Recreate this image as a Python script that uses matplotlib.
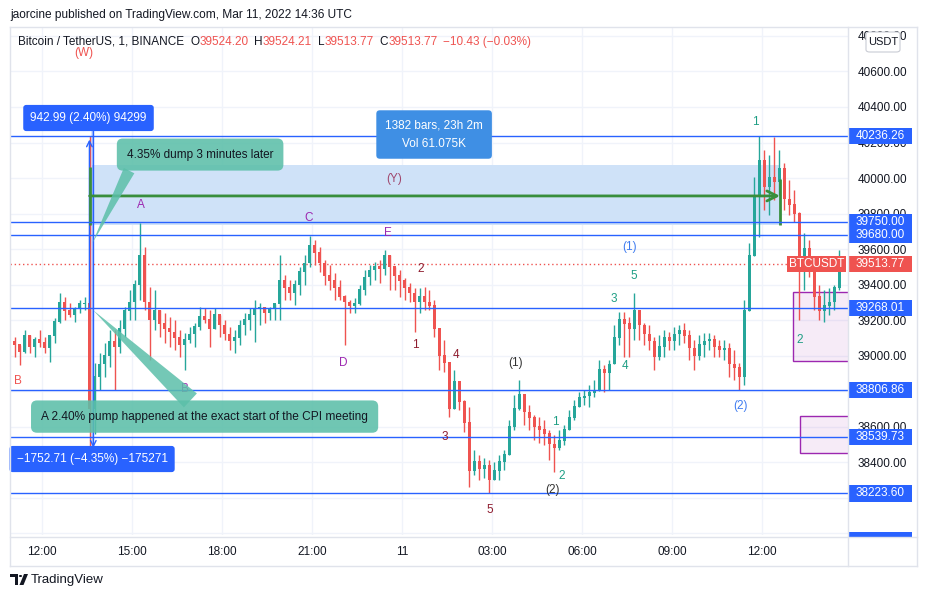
import numpy as np
import pandas as pd
import matplotlib
matplotlib.use("Agg")
import matplotlib.pyplot as plt
from matplotlib.patches import Rectangle, Polygon, Circle, FancyBboxPatch
from matplotlib.transforms import blended_transform_factory

plt.rcParams["font.family"] = ["Liberation Sans", "DejaVu Sans"]

bar_start = "2022-03-10 11:00"
bar_minutes = 10
first_open = 39080
highs = [39104, 39048, 39144, 39115, 39104, 39144, 39104, 39087, 39211, 39352,
         39330, 39296, 39273, 39313, 39330, 40236, 38960, 39014, 39070, 39144,
         39144, 39200, 39273, 39369, 39425, 39746, 39611, 39386, 39369, 39256,
         39240, 39217, 39200, 39144, 39127, 39160, 39183, 39273, 39268, 39256,
         39268, 39200, 39200, 39160, 39144, 39200, 39240, 39268, 39313, 39296,
         39273, 39273, 39284, 39566, 39453, 39425, 39425, 39499, 39566, 39673,
         39651, 39611, 39538, 39510, 39465, 39425, 39341, 39313, 39324, 39397,
         39482, 39510, 39527, 39538, 39594, 39566, 39499, 39482, 39436, 39408,
         39380, 39380, 39386, 39369, 39313, 39144, 39087, 38918, 38918, 38834,
         38749, 38710, 38468, 38440, 38423, 38411, 38400, 38440, 38468, 38637,
         38777, 38862, 38777, 38721, 38665, 38653, 38637, 38580, 38552, 38580,
         38608, 38693, 38749, 38794, 38806, 38834, 38862, 38975, 38946, 38975,
         39172, 39245, 39245, 39217, 39352, 39200, 39183, 39172, 39104, 39115,
         39144, 39132, 39160, 39172, 39183, 39144, 39087, 39115, 39127, 39127,
         39115, 39087, 39087, 39070, 39031, 38958, 39313, 39634, 40006, 40236,
         40158, 40130, 40231, 40158, 40085, 39989, 39932, 39810, 39690, 39651,
         39527, 39397, 39369, 39380, 39397, 39594]
lows = [38992, 38946, 39014, 39014, 38992, 39048, 39014, 38963, 39070, 39183,
        39200, 39217, 39189, 39240, 39256, 38481, 38560, 38806, 38879, 38935,
        38806, 39014, 39104, 39200, 39200, 39313, 39256, 38975, 39144, 39104,
        39070, 39048, 39031, 38992, 38918, 39070, 39048, 39144, 39183, 39048,
        39160, 39104, 39087, 39031, 39014, 39059, 39115, 39144, 39076, 39172,
        39183, 39200, 39200, 39200, 39313, 39313, 39284, 39341, 39397, 39499,
        39510, 39470, 39397, 39369, 39313, 39313, 39059, 39240, 39240, 39284,
        39341, 39397, 39425, 39408, 39453, 39369, 39369, 39330, 39313, 39301,
        39132, 39240, 39256, 39256, 39104, 38918, 38907, 38653, 38777, 38693,
        38569, 38259, 38327, 38299, 38310, 38224, 38299, 38299, 38355, 38485,
        38580, 38693, 38608, 38580, 38524, 38507, 38496, 38411, 38344, 38468,
        38496, 38580, 38637, 38710, 38721, 38710, 38766, 38834, 38794, 38806,
        38975, 39059, 38992, 38992, 39087, 39087, 39059, 39031, 38918, 38975,
        38992, 39031, 39031, 39059, 39070, 38975, 38918, 38975, 38992, 39031,
        38992, 38992, 38975, 38879, 38862, 38806, 38834, 39256, 39594, 39668,
        39820, 39792, 39876, 39904, 39820, 39792, 39752, 39200, 39369, 39442,
        39256, 39200, 39189, 39228, 39256, 39369]
closes = [39059, 39020, 39110, 39050, 39090, 39070, 39040, 39110, 39190, 39300,
          39250, 39230, 39260, 39290, 39291, 38700, 38880, 38950, 39000, 39080,
          39050, 39150, 39250, 39300, 39400, 39560, 39300, 39200, 39250, 39180,
          39150, 39130, 39100, 39060, 39090, 39120, 39160, 39220, 39200, 39150,
          39230, 39170, 39120, 39080, 39100, 39170, 39200, 39230, 39260, 39270,
          39240, 39260, 39290, 39420, 39380, 39350, 39400, 39470, 39520, 39620,
          39580, 39520, 39450, 39420, 39380, 39330, 39300, 39280, 39290, 39370,
          39440, 39480, 39500, 39490, 39560, 39500, 39450, 39420, 39380, 39350,
          39300, 39330, 39300, 39280, 39150, 39000, 38960, 38700, 38850, 38740,
          38620, 38350, 38400, 38360, 38380, 38300, 38350, 38400, 38440, 38600,
          38700, 38780, 38680, 38650, 38600, 38580, 38560, 38500, 38480, 38520,
          38580, 38650, 38710, 38760, 38770, 38790, 38800, 38920, 38900, 38950,
          39100, 39200, 39180, 39150, 39250, 39170, 39120, 39080, 38990, 39050,
          39100, 39080, 39120, 39140, 39110, 39040, 39000, 39060, 39080, 39090,
          39050, 39030, 39040, 38950, 38930, 38880, 39250, 39560, 39900, 40100,
          39950, 40000, 39980, 40050, 39880, 39850, 39800, 39500, 39600, 39520,
          39330, 39250, 39280, 39300, 39380, 39513.77]

h_levels = [40236.26, 39750.00, 39680.00, 39268.01, 38806.86, 38539.73, 38223.60]
last_price = 39513.77
price_ticks = list(range(38000, 40801, 200))
time_ticks = [12, 15, 18, 21, 24, 27, 30, 33, 36]   # hours since Mar 10 00:00
time_labels = ["12:00", "15:00", "18:00", "21:00", "11", "03:00", "06:00", "09:00", "12:00"]

# CPI candle: pump from 39291 to 40236.26, dump to 38481
pump_low, pump_high, dump_low = 39291, 40236.26, 38481
cpi_time = 13.68
# (Y) zone and the date range drawn on it
zone_t0, zone_t1 = 13.667, 36.6
zone_lo, zone_hi = 39735, 40073
range_price = 39899

# wave labels: text, hours, price, colour key
waves = [("(W)", 13.4, 40704, "red"), ("B", 11.2, 38856, "red"),
         ("A", 15.3, 39848, "purple"), ("B", 16.77, 38811, "purple"),
         ("C", 20.9, 39775, "purple"), ("D", 22.03, 38958, "purple"),
         ("E", 23.53, 39690, "purple"), ("(Y)", 23.73, 39994, "mauve"),
         ("2", 24.63, 39487, "maroon"), ("1", 24.43, 39059, "maroon"),
         ("4", 25.8, 39003, "maroon"), ("3", 25.43, 38541, "maroon"),
         ("5", 26.93, 38130, "maroon"),
         ("(1)", 27.8, 38958, "black"), ("(2)", 29.03, 38242, "black"),
         ("1", 29.1, 38625, "teal"), ("2", 29.33, 38321, "teal"),
         ("3", 31.07, 39318, "teal"), ("4", 31.43, 38941, "teal"),
         ("5", 31.73, 39448, "teal"),
         ("(1)", 31.57, 39611, "blue"), ("(2)", 35.3, 38715, "blue"),
         ("1", 35.77, 40316, "teal"), ("2", 37.27, 39087, "teal")]
wave_colors = {"red": "#ef5350", "purple": "#9c27b0", "mauve": "#a0486e",
               "maroon": "#8e1c2e", "black": "#333333", "teal": "#1e9e84",
               "blue": "#3f7cf0"}

UP, DOWN, BLUE, TXT, GRID, BORDER = "#26a69a", "#ef5350", "#2962ff", "#131722", "#f0f3fa", "#e0e3eb"
TEAL_BOX = "#5cbfa9"

W, H = 927, 598
fig = plt.figure(figsize=(W / 100, H / 100), dpi=100)
fig.patch.set_facecolor("white")


def fx(x):
    return x / W


def fy(y):
    return 1 - y / H


ax = fig.add_axes([fx(10), fy(535), (848 - 10) / W, (535 - 28) / H])
ax.set_xlim(10.933, 38.867)
ax.set_ylim(37989, 40845)
for s in ax.spines.values():
    s.set_visible(False)

ax.set_yticks(price_ticks)
ax.set_yticklabels([""] + [f"{p:.2f}" for p in price_ticks[1:]])
ax.set_xticks(time_ticks)
ax.set_xticklabels(time_labels)
ax.yaxis.tick_right()
ax.tick_params(length=0, labelsize=8.5, labelcolor=TXT)
ax.tick_params(axis="y", pad=7)
ax.tick_params(axis="x", pad=8)
ax.grid(color=GRID, lw=1)
ax.set_axisbelow(True)

# candles
times = pd.date_range(bar_start, periods=len(closes), freq=f"{bar_minutes}min")
t = (times - pd.Timestamp("2022-03-10")).total_seconds().values / 3600 + bar_minutes / 120
c = np.array(closes, dtype=float)
o = np.concatenate([[first_open], c[:-1]])
hi = np.maximum(np.array(highs, dtype=float), np.maximum(o, c))
lo = np.minimum(np.array(lows, dtype=float), np.minimum(o, c))
cols = np.where(c >= o, UP, DOWN)
ax.vlines(t, lo, hi, colors=cols, lw=1, zorder=3)
ax.bar(t, np.abs(c - o) + 4, bottom=np.minimum(o, c), width=bar_minutes / 60 * 0.7,
       color=cols, zorder=3)

# (Y) zone and date range
ax.add_patch(Rectangle((zone_t0, zone_lo), zone_t1 - zone_t0, zone_hi - zone_lo,
                       fc="#cfe2f8", ec="none", zorder=1))
green = "#388e3c"
ax.annotate("", xy=(zone_t1, range_price), xytext=(zone_t0 - 0.08, range_price),
            arrowprops=dict(arrowstyle="->", color=green, lw=2, mutation_scale=18,
                            shrinkA=0, shrinkB=0), zorder=4)
ax.vlines([zone_t0 - 0.08, zone_t1], zone_lo, [zone_hi - 10, zone_hi - 80],
          colors=green, lw=2, zorder=4)
ax.text(25.07, 40245, "1382 bars, 23h 2m\nVol 61.075K", color="white", fontsize=8.5,
        ha="center", va="center", linespacing=1.75, zorder=8,
        bbox=dict(boxstyle="round,pad=0.75,rounding_size=0.3", fc="#3f8fe4", ec="none"))

# price range measurement on the CPI candle
ax.add_patch(Rectangle((cpi_time - 0.06, dump_low), 0.16, pump_high + 60 - dump_low,
                       fc=BLUE, alpha=0.18, ec="none", zorder=2))
ax.annotate("", xy=(cpi_time - 0.1, pump_high - 20), xytext=(cpi_time - 0.1, 39268),
            arrowprops=dict(arrowstyle="->", color=BLUE, lw=1, shrinkA=0, shrinkB=0))
ax.annotate("", xy=(cpi_time + 0.03, dump_low), xytext=(cpi_time + 0.03, 40300),
            arrowprops=dict(arrowstyle="->", color=BLUE, lw=1, shrinkA=0, shrinkB=0))
ax.text(13.55, 40338, "942.99 (2.40%) 94299", color="white", fontsize=8.5,
        ha="center", va="center", zorder=8,
        bbox=dict(boxstyle="round,pad=0.6,rounding_size=0.25", fc=BLUE, ec="none"))
ax.text(13.67, 38417, "\u22121752.71 (\u22124.35%) \u2212175271", color="white", fontsize=8.5,
        ha="center", va="center", zorder=8,
        bbox=dict(boxstyle="round,pad=0.6,rounding_size=0.25", fc=BLUE, ec="none"))

# horizontal levels and last price
for lv in h_levels:
    ax.axhline(lv, color=BLUE, lw=1, zorder=4)
ax.axhline(last_price, color=DOWN, lw=1, ls=(0, (1, 2)), zorder=2)

# purple zones
for lo_p, hi_p, t0 in [(38969, 39358, 37.03), (38451, 38659, 37.27)]:
    ax.add_patch(Rectangle((t0, lo_p), 40 - t0, hi_p - lo_p, fc="#9c27b0", alpha=0.09,
                           ec="none", zorder=2))
    ax.add_patch(Rectangle((t0, lo_p), 40 - t0, hi_p - lo_p, fc="none", ec="#9c27b0",
                           lw=1, zorder=2))

# wave labels
for txt, wt, wp, ck in waves:
    ax.text(wt, wp, txt, color=wave_colors[ck], fontsize=8.5, ha="center", va="center", zorder=6)

# callouts (semi-transparent, as in TradingView)
ax.annotate("4.35% dump 3 minutes later", xy=(13.68, 39634), xytext=(17.27, 40132),
            fontsize=8.5, color=TXT, ha="center", va="center", zorder=9,
            bbox=dict(boxstyle="round,pad=0.85,rounding_size=0.5", fc=TEAL_BOX, ec="none", alpha=0.88),
            arrowprops=dict(arrowstyle="wedge,tail_width=1.0", fc=TEAL_BOX, ec="none", alpha=0.85,
                            relpos=(0.05, 0), shrinkA=0, shrinkB=0))
ax.annotate("A 2.40% pump happened at the exact start of the CPI meeting",
            xy=(13.7, 39256), xytext=(17.42, 38656),
            fontsize=8.6, color=TXT, ha="center", va="center", zorder=9,
            bbox=dict(boxstyle="round,pad=0.85,rounding_size=0.5", fc=TEAL_BOX, ec="none", alpha=0.88),
            arrowprops=dict(arrowstyle="wedge,tail_width=1.6", fc=TEAL_BOX, ec="none", alpha=0.85,
                            relpos=(0.49, 1), shrinkA=0, shrinkB=0))

# BTCUSDT tag on the last price
ax.add_patch(Rectangle((36.83, last_price - 46), 38.8 - 36.83, 92, fc=DOWN, ec="none", zorder=7))
ax.text(37.82, last_price, "BTCUSDT", color="white", fontsize=8.5, ha="center", va="center", zorder=8)

# price scale tags
tr = blended_transform_factory(ax.transAxes, ax.transData)
bw = 64 / 838
for lv, col in [(v, BLUE) for v in h_levels] + [(last_price, DOWN)]:
    ax.add_patch(Rectangle((1.0, lv - 46), bw, 92, transform=tr, fc=col, ec="none",
                           clip_on=False, zorder=7))
    ax.text(1.0 + bw / 2, lv, f"{lv:.2f}", transform=tr, color="white", fontsize=8.5,
            ha="center", va="center", zorder=8, clip_on=False)

# panel frame
for (x0, y0, x1, y1) in [(10, 27, 917, 27), (10, 566, 917, 566), (9.5, 27, 9.5, 566),
                         (917, 27, 917, 566), (848, 27, 848, 566), (10, 537, 917, 537)]:
    fig.add_artist(plt.Line2D([fx(x0), fx(x1)], [fy(y0), fy(y1)], color=BORDER, lw=1))
fig.add_artist(Rectangle((fx(848), fy(537)), 64 / W, 5 / H, fc=BLUE, ec="none"))
usdt = FancyBboxPatch((fx(866), fy(52)), 34 / W, 20 / H,
                      boxstyle="round,pad=0,rounding_size=0.004",
                      fc="white", ec="#c9ccd4", lw=0.8, zorder=10)
fig.add_artist(usdt)
fig.text(fx(883), fy(42), "USDT", fontsize=8, color=TXT, ha="center", va="center", zorder=11)

# header and legend
fig.text(fx(10), fy(15), "jaorcine published on TradingView.com, Mar 11, 2022 14:36 UTC",
         fontsize=8.6, color=TXT, va="center")
legend = [("Bitcoin / TetherUS, 1, BINANCE", TXT, 6), ("O", TXT, 0), ("39524.20", DOWN, 6),
          ("H", TXT, 0), ("39524.21", DOWN, 6), ("L", TXT, 0), ("39513.77", DOWN, 6),
          ("C", TXT, 0), ("39513.77", DOWN, 6), ("\u221210.43 (\u22120.03%)", DOWN, 0)]
renderer = fig.canvas.get_renderer()
xpos = 18
for txt, col, gap in legend:
    tt = fig.text(fx(xpos), fy(42), txt, fontsize=8.5, color=col, va="center")
    xpos += tt.get_window_extent(renderer).width + gap

# footer logo
fig.add_artist(Polygon([(fx(10), fy(574)), (fx(18), fy(574)), (fx(18), fy(585)),
                        (fx(15), fy(585)), (fx(15), fy(577)), (fx(10), fy(577))],
                       closed=True, fc=TXT, ec="none"))
fig.add_artist(Circle((fx(20.5), fy(576)), 1.6 / W, fc=TXT, ec="none"))
fig.add_artist(Polygon([(fx(24), fy(574)), (fx(28), fy(574)), (fx(23.5), fy(585)),
                        (fx(19.5), fy(585))], closed=True, fc=TXT, ec="none"))
fig.text(fx(31), fy(580), "TradingView", fontsize=9.5, color=TXT, va="center")

fig.savefig("out.png", dpi=100)
